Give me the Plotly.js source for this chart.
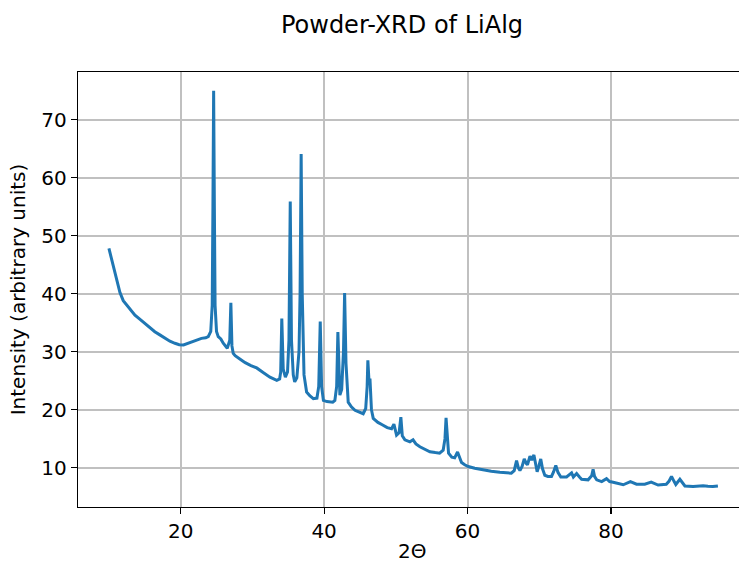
<!DOCTYPE html>
<html>
<head>
<meta charset="utf-8">
<script src="https://cdn.plot.ly/plotly-3.0.1.min.js"></script>
<style>html,body{margin:0;padding:0;overflow:hidden;background:#fff}</style>
</head>
<body>
<div id="chart" style="width:739px;height:564px"></div>
<script>
// 2-theta angles (degrees)
const twoTheta = [
  10.0,10.3,10.6,11.0,11.54,12.0,12.47,13.0,13.63,14.3,15.0,15.7,16.4,17.1,17.8,18.5,19.2,19.8,20.4,21.0,21.5,22.2,22.9,23.5,23.85,
  24.2,24.4,24.5,24.6,24.7,24.8,25.0,25.24,25.6,25.94,26.5,26.85,27.0,27.15,27.33,
  27.6,28.3,29.0,29.8,30.6,31.5,32.45,33.4,33.8,
  33.95,34.1,34.3,34.6,34.9,35.1,35.28,35.45,35.7,35.9,36.2,36.5,36.65,36.8,36.95,37.2,37.56,38.0,38.5,39.0,39.25,
  39.46,39.65,39.9,40.4,40.8,41.2,41.5,41.75,41.92,42.1,42.2,42.45,42.7,
  42.86,43.05,43.36,43.8,44.3,44.9,45.45,45.8,46.0,46.1,46.25,46.4,46.6,46.85,47.5,48.1,48.8,49.4,49.73,50.1,50.45,50.7,50.9,51.26,51.96,52.4,52.8,53.35,54.0,54.75,55.5,56.1,
  56.6,56.85,57.0,57.15,57.35,57.8,58.2,58.6,58.9,59.16,59.6,60.1,61.0,62.17,63.3,64.5,65.3,66.1,
  66.5,66.83,67.1,67.3,67.6,67.9,68.2,68.35,68.7,68.95,69.25,69.45,69.7,69.95,70.2,70.45,70.77,71.2,71.7,72.0,72.3,72.6,73.0,73.8,
  74.5,74.75,75.2,75.6,75.9,76.8,77.3,77.5,77.7,78.0,78.7,79.37,79.8,80.3,81.0,81.7,82.7,83.55,84.7,85.6,86.56,87.7,88.1,88.43,88.8,89.03,89.6,90.0,90.3,91.44,92.2,92.84,93.5,94.2,94.9
];
// Intensity (arbitrary units)
const intensity = [
  47.8,46.3,44.7,42.5,40.2,38.8,38.05,37.2,36.3,35.6,34.9,34.1,33.45,32.9,32.3,31.8,31.45,31.2,31.15,31.4,31.7,32.0,32.3,32.4,32.6,
  33.5,38.0,55.0,75.0,55.0,38.0,33.5,32.6,32.2,31.45,30.6,32.0,38.45,31.0,29.7,
  29.3,28.7,28.1,27.6,27.2,26.4,25.6,25.05,25.3,
  26.5,35.7,27.0,25.6,26.5,32.0,55.9,32.0,26.0,24.8,25.5,30.0,40.0,64.1,40.0,26.0,23.05,22.4,21.9,22.0,24.0,
  35.2,24.0,21.6,21.4,21.3,21.3,21.6,24.0,33.4,24.0,22.5,23.5,30.0,
  40.1,28.0,21.3,20.5,19.9,19.6,19.3,20.2,24.0,28.5,25.1,25.1,20.0,18.5,17.8,17.4,16.9,16.7,17.5,15.6,16.0,18.7,15.5,14.8,14.45,14.8,14.1,13.6,13.2,12.75,12.6,12.5,
  13.0,15.0,18.6,15.0,12.5,11.8,11.7,12.7,11.6,10.9,10.5,10.2,9.9,9.6,9.4,9.2,9.1,9.05,
  9.5,11.2,9.9,9.5,10.2,11.5,10.7,10.5,12.0,11.3,12.2,10.8,9.3,10.3,11.5,9.8,8.7,8.5,8.5,9.3,10.4,9.2,8.4,8.4,
  9.1,8.4,9.0,8.4,8.0,7.9,8.6,9.7,8.5,7.9,7.6,8.1,7.6,7.5,7.3,7.05,7.6,7.15,7.15,7.5,7.0,7.15,7.7,8.5,7.6,7.1,8.0,7.3,6.85,6.75,6.9,6.9,6.8,6.75,6.85
];
const xTicks = [20, 40, 60, 80];
const yTicks = [10, 20, 30, 40, 50, 60, 70];
const xLabel = "2Θ";

const font = {family: "DejaVu Sans", size: 20, color: "#000"};
const trace = {
  x: twoTheta, y: intensity, type: "scatter", mode: "lines",
  line: {color: "#1f77b4", width: 3}, hoverinfo: "skip"
};
const layout = {
  width: 739, height: 564,
  margin: {l: 78, r: 0, t: 72, b: 57, pad: 0},
  paper_bgcolor: "#fff", plot_bgcolor: "#fff",
  font: font, showlegend: false,
  title: {text: "Powder-XRD of LiAlg", font: {family: "DejaVu Sans", size: 24, color: "#000"},
          x: 402/739, xref: "container", xanchor: "center", y: 1 - 25/564, yref: "container", yanchor: "middle"},
  xaxis: {
    range: [5.69, 97.84], tickvals: xTicks, ticktext: xTicks.map(String),
    showgrid: true, gridcolor: "#c0c0c0", gridwidth: 2,
    showline: true, linecolor: "#000", linewidth: 1.3, mirror: true,
    ticks: "outside", ticklen: 6, tickwidth: 1.2, tickcolor: "#000",
    zeroline: false, tickfont: font
  },
  yaxis: {
    range: [3.22, 78.22], tickvals: yTicks, ticktext: yTicks.map(String),
    showgrid: true, gridcolor: "#c0c0c0", gridwidth: 2,
    showline: true, linecolor: "#000", linewidth: 1.3, mirror: false,
    ticks: "outside", ticklen: 6, tickwidth: 1.2, tickcolor: "#000",
    zeroline: false, tickfont: font,
    title: {text: "Intensity (arbitrary units)", font: font, standoff: 10}
  },
  annotations: [{
    text: xLabel, xref: "paper", yref: "paper", x: (412 - 78) / 661, y: -44 / 435,
    xanchor: "center", yanchor: "middle", showarrow: false, font: font
  }]
};
Plotly.newPlot("chart", [trace], layout, {staticPlot: true, displayModeBar: false});
</script>
</body>
</html>
